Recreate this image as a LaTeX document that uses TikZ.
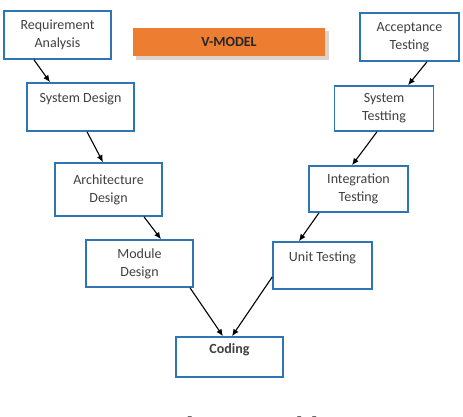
\documentclass[tikz,border=0pt]{standalone}
\usepackage{fontspec}
\setmainfont{Carlito}
\newfontfamily\capfont{Liberation Serif}
\usepackage{tikz}
\usetikzlibrary{positioning, calc, arrows.meta}

\definecolor{boxblue}{HTML}{2E75B6}
\definecolor{vorange}{HTML}{ED7D31}
\definecolor{vshadow}{HTML}{DDD3CA}
\definecolor{txtgray}{HTML}{404040}

\begin{document}
\begin{tikzpicture}[x=1pt, y=-1pt,
    phase/.style={draw=boxblue, line width=1.6pt, fill=white, text=txtgray,
      align=center, inner sep=2pt, font=\fontsize{14}{18}\selectfont},
    left/.style={phase, minimum width=107pt, minimum height=48pt},
    right/.style={phase, minimum width=99pt, minimum height=47pt},
    flow/.style={line width=1.1pt, -{Latex[length=7pt, width=6pt]}}]

      \useasboundingbox (0,0) rectangle (463,416);

      % Draw the title box with its shadow.
      \fill[vshadow] (136,31) rectangle (329,60);
      \node[fill=vorange, minimum width=192pt, minimum height=28pt, inner sep=0pt,
        font=\bfseries\fontsize{14}{16}\selectfont, text=black!85]
        (title) at (229,42) {V-MODEL};

      % Draw the design phases on the left side of the V.
      \node[left] (req) at (57.5,35) {Requirement\\Analysis};
      \node[left] (sysd) at (80.5,107) {System Design\\~};
      \node[left, minimum height=53pt] (arch) at (108.5,189.5) {Architecture\\Design};
      \node[left, minimum height=47pt] (mod) at (139.5,263.5) {Module\\Design};

      % Draw the coding box at the bottom of the V.
      \node[left, minimum height=40pt, font=\bfseries\fontsize{14}{14}\selectfont]
        (coding) at (229.5,357) {Coding\\[2pt]~};

      % Draw the testing phases on the right side of the V.
      \node[right, minimum height=48pt] (acc) at (409.5,37) {Acceptance\\Testing};
      \node[right, minimum height=45pt] (syst) at (384,108.5) {System\\Testting};
      \node[right, minimum height=46pt] (integ) at (358.5,189) {Integration\\Testing};
      \node[right] (unit) at (322.5,265.5) {Unit Testing\\~};

      % Draw the arrows down the left side.
      \draw[flow] ([xshift=-23.5pt]req.south) -- ([xshift=-30.5pt]sysd.north);
      \draw[flow] ([xshift=6.5pt]sysd.south) -- ([xshift=-5.5pt]arch.north);
      \draw[flow] ([xshift=35.5pt]arch.south) -- ([xshift=21.5pt]mod.north);
      \draw[flow] ([xshift=50.5pt]mod.south) -- ([xshift=-6.5pt]coding.north);

      % Draw the arrows down the right side.
      \draw[flow] ([xshift=17.5pt]acc.south) -- ([xshift=24pt]syst.north);
      \draw[flow] ([xshift=-7pt]syst.south) -- ([xshift=-6.5pt]integ.north);
      \draw[flow] ([xshift=-39.5pt]integ.south) -- ([xshift=-23.5pt]unit.north);
      \draw[flow] ([yshift=-11.5pt]unit.west) -- ([xshift=2.5pt]coding.north);

      % Draw the caption below the picture.
      \node[anchor=base west, inner sep=0pt, font=\capfont\bfseries\fontsize{21}{21}\selectfont]
        (caption) at (143,431) {Gambar 1 V-Model};
\end{tikzpicture}
\end{document}
